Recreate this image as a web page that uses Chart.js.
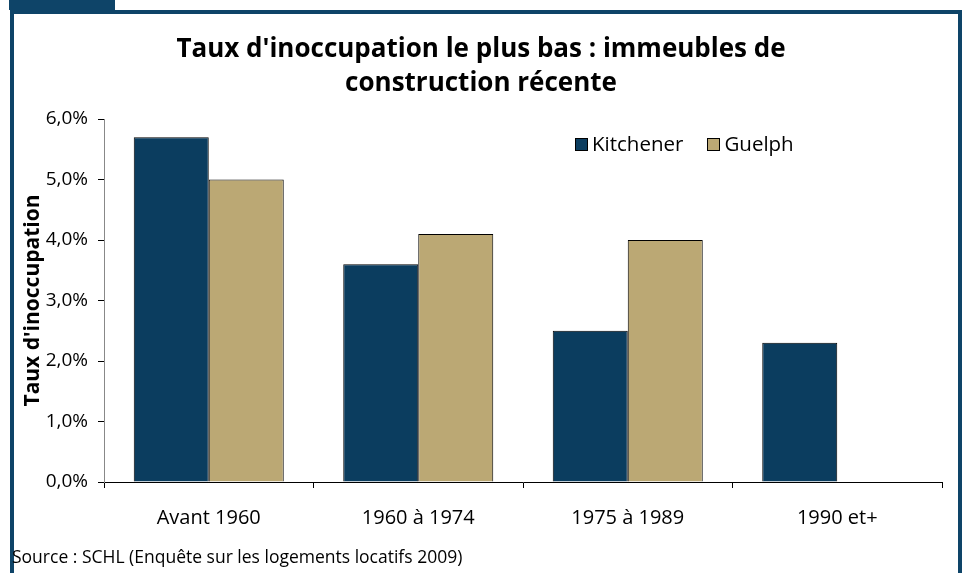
<!DOCTYPE html>
<html>
<head>
<meta charset="utf-8">
<script src="https://cdn.jsdelivr.net/npm/chart.js@4/dist/chart.umd.min.js"></script>
<style>
  body { margin: 0; background: #fff; }
  #wrap { position: relative; width: 965px; height: 573px; overflow: hidden; font-family: "Open Sans", sans-serif; }
  #tab { position: absolute; left: 9px; top: 0; width: 106px; height: 10px; background: #0e4468; }
  #frame { position: absolute; left: 10px; top: 10px; width: 944px; height: 600px; border: 4px solid #0e4468; }
  #chart { position: absolute; left: 0; top: 0; }
  #legend { position: absolute; top: 129px; left: 575px; font-size: 20.5px; color: #000; white-space: nowrap; }
  #legend span.item { display: inline-block; margin-right: 24px; }
  #legend span.box { display: inline-block; width: 11px; height: 11px; border: 1px solid #000; margin-right: 4px; vertical-align: 0px; }
  #source { position: absolute; left: 12px; top: 544px; font-size: 17.5px; color: #000; }
</style>
</head>
<body>
<div id="wrap">
  <div id="tab"></div>
  <div id="frame"></div>
  <canvas id="chart" width="965" height="573"></canvas>
  <div id="legend"></div>
  <div id="source">Source : SCHL (Enquête sur les logements locatifs 2009)</div>
</div>
<script>
var categories = ["Avant 1960", "1960 à 1974", "1975 à 1989", "1990 et+"];
var kitchener = [5.7, 3.6, 2.5, 2.3];
var guelph = [5.0, 4.1, 4.0, null];
var seriesNames = ["Kitchener", "Guelph"];
var seriesColors = ["#0b3d5f", "#bba874"];
var yTicks = [0, 1, 2, 3, 4, 5, 6];

var datasets = [kitchener, guelph].map(function (vals, i) {
  return {
    label: seriesNames[i],
    data: vals,
    backgroundColor: seriesColors[i],
    borderColor: '#000',
    borderWidth: 1,
    categoryPercentage: 0.716,
    barPercentage: 1
  };
});

// legend as html
var leg = document.getElementById('legend');
datasets.forEach(function (d) {
  leg.innerHTML += '<span class="item"><span class="box" style="background:' + d.backgroundColor + '"></span>' + d.label + '</span>';
});

new Chart(document.getElementById('chart').getContext('2d'), {
  type: 'bar',
  data: { labels: categories, datasets: datasets },
  options: {
    responsive: false,
    animation: false,
    layout: { padding: { left: 20, right: 23, top: 0, bottom: 31 } },
    plugins: {
      legend: { display: false },
      tooltip: { enabled: false },
      title: {
        display: true,
        text: ["Taux d'inoccupation le plus bas : immeubles de", "construction récente"],
        color: '#000',
        font: { family: 'Open Sans', size: 26, weight: 'bold', lineHeight: 1.308 },
        padding: { top: 33, bottom: 18 }
      }
    },
    scales: {
      x: {
        afterFit: function (s) { s.height = 60; },
        grid: { display: true, drawOnChartArea: false, offset: true, tickLength: 6, color: '#000' },
        border: { color: '#000', width: 1 },
        ticks: { color: '#000', font: { family: 'Open Sans', size: 20 }, padding: 18 }
      },
      y: {
        min: 0,
        max: 6,
        afterFit: function (s) { s.width = 84; },
        afterBuildTicks: function (s) { s.ticks = yTicks.map(function (v) { return { value: v }; }); },
        grid: { display: true, drawOnChartArea: false, tickLength: 6, color: '#000' },
        border: { color: '#888', width: 1 },
        ticks: {
          color: '#000',
          font: { family: 'Open Sans', size: 19 },
          padding: 10,
          callback: function (v) { return v.toFixed(1).replace('.', ',') + '%'; }
        },
        title: {
          display: true,
          text: "Taux d'inoccupation",
          color: '#000',
          font: { family: 'Open Sans', size: 21, weight: 'bold' },
          padding: 0
        }
      }
    }
  }
});
</script>
</body>
</html>
